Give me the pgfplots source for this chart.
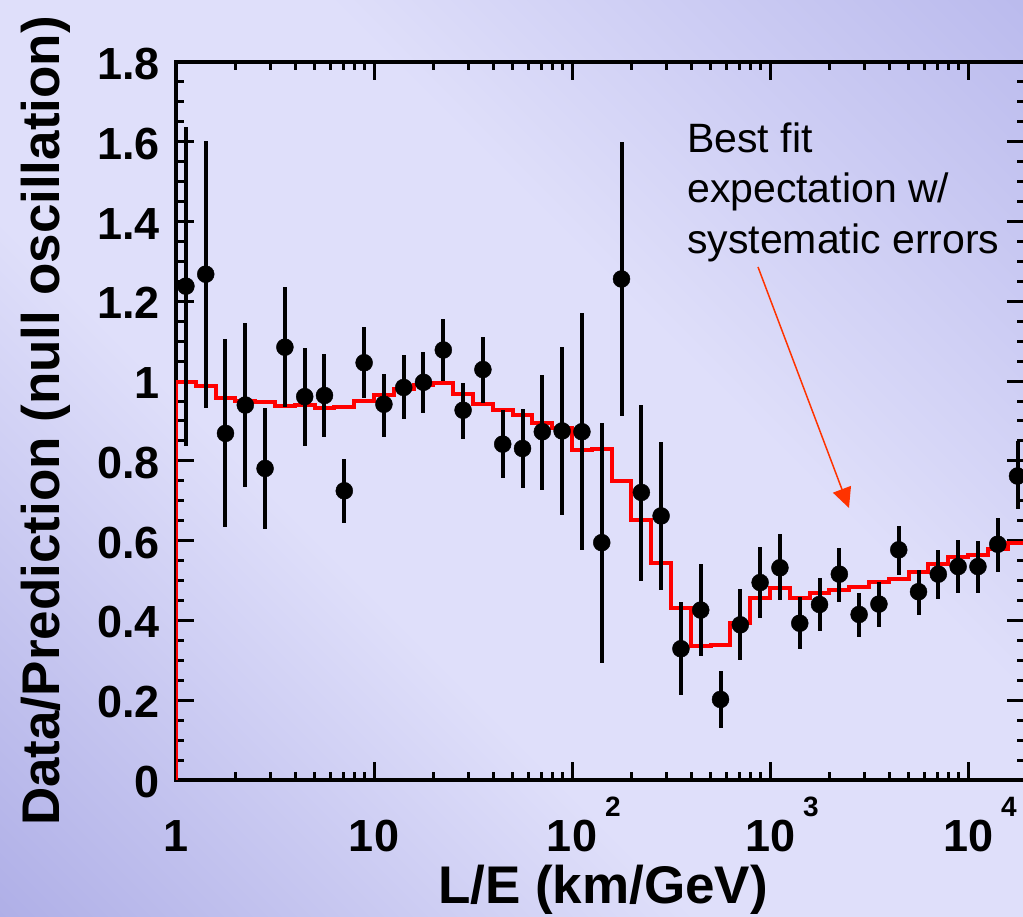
\documentclass[border=0pt]{standalone}
\usepackage{pgfplots}
\pgfplotsset{compat=1.18}
\usepackage{pgfplotstable}
\usepackage{fontspec}
\setmainfont{Liberation Sans}
\usetikzlibrary{arrows.meta}
\definecolor{bglight}{RGB}{223,223,250}
\definecolor{bgdarkA}{RGB}{148,148,220}
\definecolor{bgdarkB}{RGB}{166,166,230}
\definecolor{arrowred}{RGB}{255,51,0}
\pgfdeclarehorizontalshading{bgshade}{100bp}{color(0bp)=(bgdarkA); color(40bp)=(bglight); color(60bp)=(bglight); color(100bp)=(bgdarkB)}

\pgfplotstableread{
x y ep em
1.122 1.238 0.400 0.401
1.413 1.268 0.334 0.336
1.778 0.869 0.236 0.236
2.239 0.940 0.205 0.205
2.818 0.781 0.152 0.153
3.548 1.085 0.152 0.151
4.467 0.961 0.121 0.124
5.623 0.964 0.105 0.105
7.079 0.725 0.079 0.080
8.913 1.046 0.089 0.089
11.22 0.942 0.077 0.083
14.13 0.984 0.081 0.080
17.78 0.997 0.077 0.078
22.39 1.078 0.078 0.078
28.18 0.927 0.069 0.072
35.48 1.029 0.081 0.083
44.67 0.842 0.086 0.084
56.23 0.831 0.098 0.100
70.79 0.873 0.142 0.147
89.13 0.875 0.210 0.211
112.2 0.873 0.297 0.296
141.3 0.595 0.301 0.301
177.8 1.256 0.343 0.343
223.9 0.721 0.219 0.221
281.8 0.662 0.186 0.186
354.8 0.329 0.117 0.116
446.7 0.426 0.115 0.115
562.3 0.202 0.071 0.071
707.9 0.389 0.089 0.087
891.3 0.495 0.088 0.090
1122 0.532 0.085 0.082
1413 0.393 0.065 0.065
1778 0.440 0.066 0.067
2239 0.516 0.065 0.069
2818 0.415 0.055 0.057
3548 0.441 0.055 0.058
4467 0.577 0.061 0.064
5623 0.472 0.054 0.058
7079 0.516 0.061 0.062
8913 0.535 0.067 0.067
11220 0.535 0.063 0.065
14130 0.591 0.065 0.069
17780 0.762 0.088 0.082
}\datatab

\pgfplotstableread{
x y
1 0
1 0.998
1.2589 0.988
1.5849 0.958
1.9953 0.951
2.5119 0.948
3.1623 0.937
3.9811 0.939
5.0119 0.933
6.3096 0.936
7.9433 0.951
10 0.965
12.589 0.979
15.849 0.990
19.953 0.996
25.119 0.967
31.623 0.942
39.811 0.928
50.119 0.915
63.096 0.894
79.433 0.883
100 0.827
125.89 0.829
158.49 0.750
199.53 0.652
251.19 0.545
316.23 0.432
398.11 0.337
501.19 0.338
630.96 0.393
794.33 0.455
1000 0.482
1258.9 0.455
1584.9 0.468
1995.3 0.476
2511.9 0.483
3162.3 0.497
3981.1 0.505
5011.9 0.521
6309.6 0.541
7943.3 0.558
10000 0.564
12589 0.579
15849 0.595
19953 0.600
25119 0.600
}\histtab

\newcommand{\expo}[1]{10\rlap{\raisebox{35pt}{\kern8pt\fontsize{28}{28}\selectfont #1}}}

\begin{document}
\begin{tikzpicture}
\useasboundingbox (0,0) rectangle (1023pt,917pt);
\clip (0,0) rectangle (1023pt,917pt);
\shade[shading=bgshade, shading angle=45] (0,0) rectangle (1023pt,917pt);
\begin{axis}[
  at={(176pt,137pt)}, anchor=south west,
  scale only axis, width=849pt, height=718pt,
  xmode=log, xmin=1, xmax=19400, ymin=0, ymax=1.8,
  axis line style={line width=3.5pt, black},
  tick align=inside,
  major tick length=18pt, minor tick length=8pt,
  tick style={line width=3pt, black},
  xtick={1,10,100,1000,10000},
  xticklabels={1,10,\expo{2},\expo{3},\expo{4}},
  ytick={0,0.2,0.4,0.6,0.8,1,1.2,1.4,1.6,1.8},
  yticklabels={0,0.2,0.4,0.6,0.8,1,1.2,1.4,1.6,1.8},
  minor y tick num=3,
  xticklabel style={font=\fontsize{45}{45}\selectfont\bfseries, anchor=base, yshift=-72pt, inner sep=0pt},
  yticklabel style={font=\fontsize{45}{45}\selectfont\bfseries, anchor=base east, xshift=-16pt, yshift=-17.5pt, inner sep=0pt},
  xlabel={L/E (km/GeV)},
  xlabel style={at={(axis description cs:0.503,-0.1727)}, anchor=base, font=\fontsize{53}{53}\selectfont\bfseries, inner sep=0pt},
  ylabel={Data/Prediction (null oscillation)},
  ylabel style={at={(axis description cs:-0.1378,0.5)}, anchor=base, font=\fontsize{53}{53}\selectfont\bfseries, inner sep=0pt},
]
\addplot[const plot mark left, red, line width=4pt, no marks] table[x=x, y=y] {\histtab};
\addplot[only marks, mark=*, mark size=8.5pt, black,
  error bars/.cd, y dir=both, y explicit, error mark=none,
  error bar style={line width=4pt, black}]
  table[x=x, y=y, y error plus=ep, y error minus=em] {\datatab};
\end{axis}
\node[anchor=base west, inner sep=0pt, font=\fontsize{41}{41}\selectfont] at (687pt,764pt) {Best fit};
\node[anchor=base west, inner sep=0pt, font=\fontsize{41}{41}\selectfont] at (687pt,714pt) {expectation w/};
\node[anchor=base west, inner sep=0pt, font=\fontsize{41}{41}\selectfont] at (687pt,663pt) {systematic errors};
\draw[arrowred, line width=1.5pt, -{Triangle[length=20pt,width=19pt]}] (758pt,650pt) -- (849pt,409pt);
\end{tikzpicture}
\end{document}
